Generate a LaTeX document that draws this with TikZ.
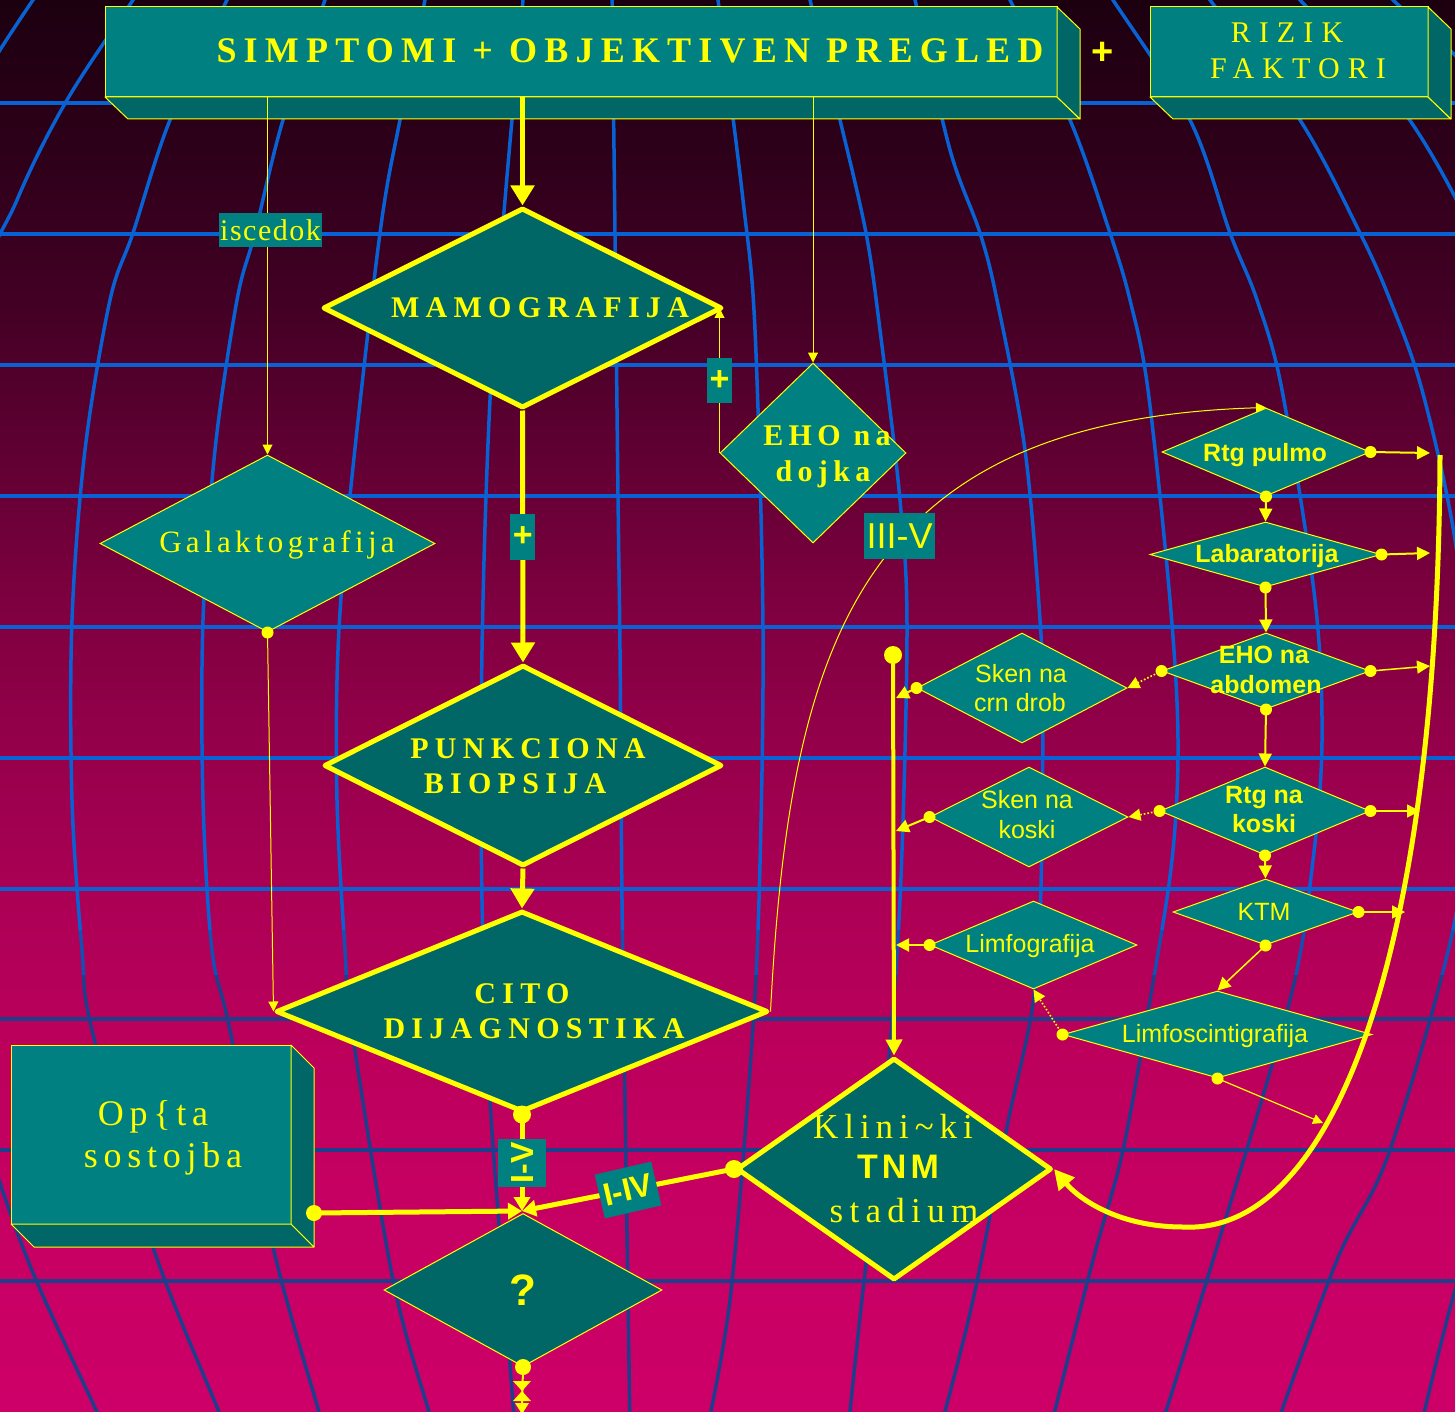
\documentclass[tikz,border=0pt]{standalone}
\usepackage{fontspec}
\setmainfont{Liberation Serif}
\setsansfont{Liberation Sans}
\usetikzlibrary{shapes.geometric,arrows.meta,calc}

\definecolor{ylw}{RGB}{255,255,0}
\definecolor{tealA}{RGB}{0,128,128}
\definecolor{tealB}{RGB}{0,102,102}
\definecolor{gridA}{RGB}{8,98,212}
\definecolor{gridB}{RGB}{20,80,178}
\definecolor{gridC}{RGB}{30,62,140}
\definecolor{bgA}{RGB}{28,0,16}
\definecolor{bgB}{RGB}{45,0,25}
\definecolor{bgC}{RGB}{66,0,36}
\definecolor{bgD}{RGB}{95,0,50}
\definecolor{bgE}{RGB}{125,0,63}
\definecolor{bgF}{RGB}{150,0,75}
\definecolor{bgG}{RGB}{172,0,85}
\definecolor{bgH}{RGB}{188,0,92}
\definecolor{bgI}{RGB}{198,0,98}
\definecolor{bgJ}{RGB}{205,0,104}

\pgfdeclareverticalshading{bgshade}{100bp}{color(0bp)=(bgJ); color(25bp)=(bgJ); color(32.5bp)=(bgI); color(37.8bp)=(bgH); color(43.1bp)=(bgG); color(48.4bp)=(bgF); color(53.8bp)=(bgE); color(59.1bp)=(bgD); color(64.4bp)=(bgC); color(69.7bp)=(bgB); color(75bp)=(bgA); color(100bp)=(bgA)}

\newcommand{\fSerB}[2]{\fontsize{#1}{#1}\selectfont\bfseries\addfontfeatures{LetterSpace=#2}}
\newcommand{\fSerR}[2]{\fontsize{#1}{#1}\selectfont\addfontfeatures{LetterSpace=#2}}
\newcommand{\fSanB}[1]{\fontsize{#1}{#1}\selectfont\sffamily\bfseries}
\newcommand{\fSanR}[1]{\fontsize{#1}{#1}\selectfont\sffamily}

\newcommand{\drawgrid}{%
  \foreach \yy in {103,234,365,496,627,758,889,1019,1150,1281} {\draw (-10,\yy) -- (1465,\yy);}
  \draw plot[smooth,tension=0.55] coordinates {(45,-15) (33,0) (0,50) (-20,85)};
  \draw plot[smooth,tension=0.55] coordinates {(150,-25) (133,0) (67,100) (17,200) (-30,330) (-60,700) (-30,1080) (0,1183) (36,1280) (97,1412) (105,1430)};
  \draw plot[smooth,tension=0.55] coordinates {(235,-15) (227,0) (170,120) (133,233) (110,300) (85,450) (72,620) (72,800) (82,950) (92,1030) (153,1247) (219,1412) (225,1430)};
  \draw plot[smooth,tension=0.55] coordinates {(330,-15) (325,0) (283,120) (255,233) (237,300) (215,450) (203,620) (203,800) (212,950) (230,1030) (273,1247) (319,1412) (324,1430)};
  \draw plot[smooth,tension=0.55] coordinates {(428,-15) (425,0) (400,120) (380,233) (350,496) (338,650) (337,800) (345,950) (352,1030) (393,1280) (429,1412) (434,1430)};
  \draw plot[smooth,tension=0.55] coordinates {(525,-15) (523,0) (505,200) (490,400) (482,650) (482,900) (490,1100) (505,1300) (515,1430)};
  \draw plot[smooth,tension=0.55] coordinates {(612,-15) (615,233) (618,496) (620,650) (622,900) (625,1100) (630,1430)};
  \draw plot[smooth,tension=0.55] coordinates {(716,-15) (718,0) (743,200) (755,330) (763,630) (759,900) (750,1070) (730,1300) (707,1430)};
  \draw plot[smooth,tension=0.55] coordinates {(806,-15) (810,0) (840,120) (866,233) (880,330) (900,500) (907,630) (900,900) (885,1100) (863,1290) (848,1430)};
  \draw plot[smooth,tension=0.55] coordinates {(910,-15) (915,0) (950,150) (980,233) (997,300) (1025,450) (1040,620) (1043,720) (1037,970) (1007,1127) (973,1300) (940,1430)};
  \draw plot[smooth,tension=0.55] coordinates {(1003,-15) (1010,0) (1070,120) (1110,233) (1130,300) (1148,390) (1170,600) (1178,740) (1172,860) (1150,1000) (1123,1150) (1093,1260) (1050,1430)};
  \draw plot[smooth,tension=0.55] coordinates {(1103,-15) (1113,0) (1190,120) (1230,233) (1257,300) (1282,390) (1315,600) (1322,740) (1313,860) (1290,1000) (1213,1260) (1160,1430)};
  \draw plot[smooth,tension=0.55] coordinates {(1198,-15) (1210,0) (1300,120) (1360,233) (1390,300) (1422,390) (1455,540) (1475,730) (1455,920) (1390,1150) (1337,1260) (1275,1430)};
  \draw plot[smooth,tension=0.55] coordinates {(1288,-15) (1300,0) (1395,100) (1455,197) (1500,300)};
  \draw plot[smooth,tension=0.55] coordinates {(1500,1150) (1455,1290) (1420,1430)};
  \draw plot[smooth,tension=0.55] coordinates {(1385,-15) (1393,0) (1460,60) (1480,90)};
}

\begin{document}
\begin{tikzpicture}[x=1pt,y=-1pt,
  txt/.style={text=ylw,inner sep=0pt,anchor=base},
  bigdia/.style={diamond,draw=ylw,line width=5pt,line join=round,fill=tealB,inner sep=0pt},
  smalldia/.style={diamond,draw=ylw,line width=1pt,fill=tealA,inner sep=0pt},
  qdia/.style={diamond,draw=ylw,line width=1pt,fill=tealB,inner sep=0pt},
  frontbox/.style={rectangle,draw=ylw,line width=1pt,fill=tealA,inner sep=0pt,outer sep=0pt},
  sideface/.style={draw=ylw,line width=1pt,fill=tealB,line join=round},
  mainarrow/.style={draw=ylw,line width=5pt,-{Triangle[length=20pt,width=23pt]}},
  jarrow/.style={draw=ylw,line width=5pt,-{Triangle[length=14pt,width=16pt]}},
  vline/.style={draw=ylw,line width=4pt,-{Triangle[length=16pt,width=16pt]}},
  thinarrow/.style={draw=ylw,line width=1pt,-{Triangle[length=10pt,width=10pt]}},
  smallarrow/.style={draw=ylw,line width=2pt,-{Triangle[length=13pt,width=13pt]}},
  dotarrow/.style={draw=ylw,line width=1.6pt,dotted,-{Triangle[length=12pt,width=12pt,color=ylw]}},
  bigcurve/.style={draw=ylw,line width=5pt,-{Triangle[length=20pt,width=20pt]}},
  tag/.style={fill=tealA,text=ylw,inner sep=0pt},
]
\useasboundingbox (0,0) rectangle (1455,1412);
\shade[shading=bgshade] (0,0) rectangle (1455,1412);

% background grid
\begin{scope}
  \clip (0,0) rectangle (1455,930);
  \begin{scope}[color=gridA,line width=3.5pt] \drawgrid \end{scope}
\end{scope}
\begin{scope}
  \clip (0,930) rectangle (1455,975);
  \begin{scope}[color=gridB,line width=3.5pt] \drawgrid \end{scope}
\end{scope}
\begin{scope}
  \clip (0,975) rectangle (1455,1412);
  \begin{scope}[color=gridC,line width=3.5pt] \drawgrid \end{scope}
\end{scope}

% 3D boxes
\node[frontbox,minimum width=952,minimum height=90] (simp) at (581,52) {};
\draw[sideface] (simp.south west) -- ++(23,22) -- ++(952,0) -- (simp.south east) -- cycle;
\draw[sideface] (simp.north east) -- ++(23,22) -- ++(0,90) -- (simp.south east) -- cycle;

\node[frontbox,minimum width=278,minimum height=90] (riz) at (1289,52) {};
\draw[sideface] (riz.south west) -- ++(23,22) -- ++(278,0) -- (riz.south east) -- cycle;
\draw[sideface] (riz.north east) -- ++(23,22) -- ++(0,90) -- (riz.south east) -- cycle;

\node[frontbox,minimum width=280,minimum height=179] (ops) at (151,1134.5) {};
\draw[sideface] (ops.south west) -- ++(23,23) -- ++(280,0) -- (ops.south east) -- cycle;
\draw[sideface] (ops.north east) -- ++(23,23) -- ++(0,179) -- (ops.south east) -- cycle;

% diamonds
\node[bigdia,minimum width=399,minimum height=200] (mamo) at (522.5,308) {};
\node[bigdia,minimum width=398,minimum height=201] (punk) at (523,765.5) {};
\node[bigdia,minimum width=492,minimum height=201] (cito) at (522,1011.5) {};
\node[bigdia,minimum width=315,minimum height=222] (tnm) at (894,1169) {};
\node[qdia,minimum width=278,minimum height=153] (qq) at (523,1290) {};
\node[smalldia,minimum width=335,minimum height=177] (gal) at (267.5,543.5) {};
\node[smalldia,minimum width=186,minimum height=180] (ehod) at (813,453) {};
\node[smalldia,minimum width=208,minimum height=88] (rtgp) at (1266,452) {};
\node[smalldia,minimum width=231,minimum height=65] (lab) at (1265.5,554.5) {};
\node[smalldia,minimum width=208,minimum height=76] (ehoa) at (1266,671) {};
\node[smalldia,minimum width=210,minimum height=88] (rtgk) at (1265,811) {};
\node[smalldia,minimum width=185,minimum height=66] (ktm) at (1265.5,912) {};
\node[smalldia,minimum width=309,minimum height=87] (lsc) at (1217.5,1034.5) {};
\node[smalldia,minimum width=210,minimum height=110] (skc) at (1022,688) {};
\node[smalldia,minimum width=198,minimum height=100] (skk) at (1029,817) {};
\node[smalldia,minimum width=207,minimum height=88] (limf) at (1033.5,945) {};

% free ends
\coordinate (jn) at (522,1211);
\coordinate (opsdot) at ($(ops.south east)+(23,-11)$);
\coordinate (vtop) at (893,655);
\coordinate (v1) at (896,698);
\coordinate (v2) at (896,831);
\coordinate (v3) at (896,945);
\coordinate (rail) at (1440,455);
\coordinate (r1) at (1430,453);
\coordinate (r2) at (1430,553);
\coordinate (r3) at (1430,666);
\coordinate (r4) at (1420,811);
\coordinate (r5) at (1405,912);
\coordinate (r6) at (1323,1123);
\coordinate (qend) at (522,1412);

% main column
\draw[mainarrow] (simp.south -| mamo.north) -- (mamo.north);
\draw[mainarrow] (mamo.south) -- node[tag,font=\fSanB{34},minimum width=25,minimum height=46] (plusA) {+} (punk.north);
\draw[mainarrow] (punk.south) -- (cito.north);

% thin connectors from the top box
\draw[thinarrow] (simp.south -| gal.north) -- node[pos=0.372,tag,font=\fSerR{30}{5},minimum height=34,inner xsep=1pt,xshift=3pt] (isc) {iscedok} (gal.north);
\draw[thinarrow] (simp.south -| ehod.north) -- (ehod.north);
\draw[thinarrow] (ehod.west) -- node[tag,font=\fSanB{34},minimum width=25,minimum height=45] (plusB) {+} (ehod.west |- mamo.east);

\fill[ylw] (gal.south) circle (6pt);
\draw[thinarrow] (gal.south) -- (cito.west);

\draw[thinarrow] (cito.east) .. controls (790,640) and (860,420) .. (rtgp.north);
\node[tag,font=\fSanR{36},minimum width=71,minimum height=46] (lIII) at (899.5,536) {III-V};

% bottom junction
\fill[ylw] (cito.south) circle (9pt);
\draw[jarrow] (cito.south) -- node[tag,rotate=90,font=\fSanB{32},minimum width=48,minimum height=48] (lIV) {I-V} (jn);
\fill[ylw] (opsdot) circle (8pt);
\draw[jarrow] (opsdot) -- (jn);
\fill[ylw] (tnm.west) circle (9pt);
\draw[jarrow] (tnm.west) -- node[tag,rotate=13,font=\fSanB{32},minimum width=58,minimum height=45] (lIIV) {I-IV} (jn);

\fill[ylw] (qq.south) circle (8pt);
\draw[ylw,line width=2pt] (qq.south) -- (qend);
\fill[ylw] (513,1381) -- (531,1381) -- (522,1391) -- cycle;
\fill[ylw] (513,1401) -- (531,1401) -- (522,1391) -- cycle;
\fill[ylw] (515,1403) -- (529,1403) -- (522,1414) -- cycle;

% vertical collector to TNM
\fill[ylw] (vtop) circle (9pt);
\draw[vline] (vtop) -- (tnm.north);
\fill[ylw] (skc.west) circle (6pt);
\draw[smallarrow] (skc.west) -- (v1);
\fill[ylw] (skk.west) circle (6pt);
\draw[smallarrow] (skk.west) -- (v2);
\fill[ylw] (limf.west) circle (6pt);
\draw[smallarrow] (limf.west) -- (v3);

% right column
\foreach \n in {rtgp,lab,ehoa,rtgk,ktm,lsc} {\fill[ylw] (\n.south) circle (6pt);}
\foreach \n in {rtgp,lab,ehoa,rtgk,ktm} {\fill[ylw] (\n.east) circle (6pt);}
\foreach \n in {ehoa,rtgk,lsc} {\fill[ylw] (\n.west) circle (6pt);}
\draw[smallarrow] (rtgp.east) -- (r1);
\draw[smallarrow] (rtgp.south) -- (lab.north);
\draw[smallarrow] (lab.east) -- (r2);
\draw[smallarrow] (lab.south) -- (ehoa.north);
\draw[dotarrow] (ehoa.west) -- (skc.east);
\draw[smallarrow,line width=1.5pt] (ehoa.east) -- (r3);
\draw[smallarrow] (ehoa.south) -- (rtgk.north);
\draw[dotarrow] (rtgk.west) -- (skk.east);
\draw[smallarrow,line width=1.5pt] (rtgk.east) -- (r4);
\draw[smallarrow] (rtgk.south) -- (ktm.north);
\draw[smallarrow,line width=1.5pt] (ktm.east) -- (r5);
\draw[smallarrow,line width=1.5pt] (ktm.south) -- (lsc.north);
\draw[dotarrow] (lsc.west) -- (limf.south);
\draw[thinarrow,line width=1.2pt] (lsc.south) -- (r6);

\draw[bigcurve] (rail) .. controls (1438,950) and (1335,1235) .. (1183,1227) .. controls (1120,1227) and (1080,1200) .. (tnm.east);

% texts
\node[txt,font=\fSerB{36}{20}] (tSimp) at (630,63) {SIMPTOMI + OBJEKTIVEN PREGLED};
\node[txt,font=\fSanB{38}] (tPlus) at (1103,65) {+};
\node[txt,font=\fSerR{30}{27}] (tRiz) at (1287,43) {RIZIK};
\node[txt,font=\fSerR{30}{27}] (tFak) at (1298,79) {FAKTORI};
\node[txt,font=\fSerB{30}{21}] (tMamo) at (540,317) {MAMOGRAFIJA};
\node[txt,font=\fSerR{31}{14}] (tGal) at (277,552) {Galaktografija};
\node[txt,font=\fSerB{30}{18}] (tEhoA) at (827,445) {EHO na};
\node[txt,font=\fSerB{30}{18}] (tEhoB) at (823,481) {dojka};
\node[txt,font=\fSerB{30}{21}] (tPunA) at (528,758) {PUNKCIONA};
\node[txt,font=\fSerB{30}{21}] (tPunB) at (515,793) {BIOPSIJA};
\node[txt,font=\fSerB{30}{21}] (tCitA) at (522,1003) {CITO};
\node[txt,font=\fSerB{30}{21}] (tCitB) at (534,1038) {DIJAGNOSTIKA};
\node[txt,font=\fSerR{36}{16}] (tOpA) at (153,1125) {Op\{ta};
\node[txt,font=\fSerR{36}{16}] (tOpB) at (163,1167) {sostojba};
\node[txt,font=\fSerR{35}{17}] (tKlA) at (893,1138) {Klini\textasciitilde ki};
\node[txt,font={\fSanB{34}\addfontfeatures{LetterSpace=12}}] (tKlB) at (898,1178) {TNM};
\node[txt,font=\fSerR{35}{18}] (tKlC) at (904,1222) {stadium};
\node[txt,font=\fSanB{44}] (tQ) at (523,1305) {?};
\node[txt,font=\fSanB{25}] (tRtgp) at (1265,461) {Rtg pulmo};
\node[txt,font=\fSanB{25}] (tLab) at (1267,562) {Labaratorija};
\node[txt,font=\fSanB{25}] (tEhaA) at (1264,663) {EHO na};
\node[txt,font=\fSanB{25}] (tEhaB) at (1266,693) {abdomen};
\node[txt,font=\fSanR{25}] (tSkcA) at (1021,682) {Sken na};
\node[txt,font=\fSanR{25}] (tSkcB) at (1020,711) {crn drob};
\node[txt,font=\fSanR{25}] (tSkkA) at (1027,808) {Sken na};
\node[txt,font=\fSanR{25}] (tSkkB) at (1027,838) {koski};
\node[txt,font=\fSanR{25}] (tLimf) at (1030,952) {Limfografija};
\node[txt,font=\fSanB{25}] (tRtkA) at (1264,803) {Rtg na};
\node[txt,font=\fSanB{25}] (tRtkB) at (1264,832) {koski};
\node[txt,font=\fSanR{25}] (tKtm) at (1264,920) {KTM};
\node[txt,font=\fSanR{25}] (tLsc) at (1215,1042) {Limfoscintigrafija};
\end{tikzpicture}
\end{document}
